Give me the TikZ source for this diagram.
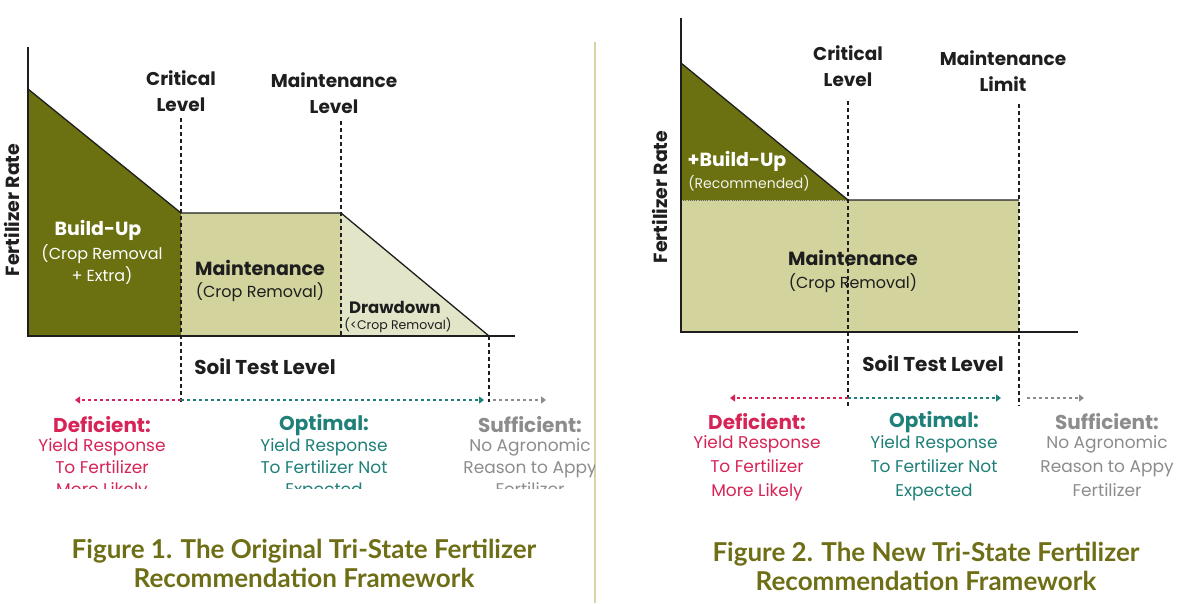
\documentclass[tikz,border=0pt]{standalone}
\usepackage{fontspec}
\setmainfont{Poppins}
\newfontfamily\capfont{Lato}
\usetikzlibrary{arrows.meta}
\definecolor{olivedark}{RGB}{107,112,16}
\definecolor{maint}{RGB}{210,211,157}
\definecolor{drawd}{RGB}{226,229,200}
\definecolor{defred}{RGB}{214,36,86}
\definecolor{optteal}{RGB}{30,128,120}
\definecolor{sufgray}{RGB}{140,140,140}
\definecolor{capolive}{RGB}{110,110,22}
\definecolor{sepline}{RGB}{215,212,165}
\definecolor{txt}{RGB}{30,30,30}
\tikzset{
  head/.style={font=\bfseries\fontsize{18.5}{26}\selectfont, text=txt, align=center, inner sep=0pt},
  areabold/.style={font=\bfseries\fontsize{19}{22}\selectfont, inner sep=0pt},
  areasub/.style={font=\fontsize{16}{22}\selectfont, inner sep=0pt, align=center},
  axlabel/.style={font=\bfseries\fontsize{19}{20}\selectfont, text=txt, rotate=90, inner sep=0pt},
  zonehead/.style={font=\bfseries\fontsize{20}{22}\selectfont, inner sep=0pt},
  zonetext/.style={font=\fontsize{17}{22}\selectfont, inner sep=0pt, align=center},
  zonetextb/.style={font=\fontsize{17}{24}\selectfont, inner sep=0pt, align=center},
  caption/.style={font=\capfont\bfseries\fontsize{26}{29}\selectfont, text=capolive, align=center, inner sep=0pt},
  soil/.style={font=\bfseries\fontsize{20}{22}\selectfont, text=txt, inner sep=0pt},
  outline/.style={draw=txt, line width=1.3pt, line join=round},
  axis/.style={draw=txt, line width=1.3pt},
  levelline/.style={draw=txt, line width=1.2pt, dash pattern=on 4pt off 3pt},
  zonearrow/.style={line width=2pt, dash pattern=on 3pt off 3pt, -{Triangle[length=5pt,width=7pt]}},
}
\begin{document}
\begin{tikzpicture}[x=1pt,y=-1pt]
\useasboundingbox (0,0) rectangle (1178,603);
% separator
\draw[sepline, line width=1.2pt] (595,42) -- (595,603);

%%%%%%%%%%%%%%%% LEFT PANEL %%%%%%%%%%%%%%%%
\coordinate (Laxtop) at (28,47);
\coordinate (Lorig) at (28,336);
\coordinate (Lbaseend) at (515,336);
\coordinate (Lapex) at (28,89);
\coordinate (Lcrit) at (181,213);
\coordinate (Lmaint) at (341,213);
\coordinate (Lend) at (489,336);
\fill[olivedark] (Lapex) -- (Lcrit) -- (181,336) -- (Lorig) -- cycle;
\fill[maint] (Lcrit) -- (Lmaint) -- (341,336) -- (181,336) -- cycle;
\fill[drawd] (Lmaint) -- (Lend) -- (341,336) -- cycle;
\draw[outline] (Lapex) -- (Lcrit) -- (Lmaint) -- (Lend);
\draw[axis] (Laxtop) -- (Lorig) -- (Lbaseend);

\node[head] (Lcl) at (181,91) {Critical\\Level};
\node[head] (Lml) at (334,93.5) {Maintenance\\Level};
\coordinate (Lcrittop) at (181,118);
\coordinate (Lcritbot) at (181,402);
\coordinate (Lmainttop) at (341,121);
\coordinate (Lmaintbot) at (341,336);
\coordinate (Lendbot) at (489,402);
\draw[levelline] (Lcrittop) -- (Lcritbot);
\draw[levelline] (Lmainttop) -- (Lmaintbot);
\draw[levelline] (Lend) -- (Lendbot);

\node[axlabel] (Lfr) at (12,210) {Fertilizer Rate};
\node[areabold, text=white] (Lbu) at (98,230) {Build-Up};
\node[areasub, text=white] (Lbus) at (102,265) {(Crop Removal\\+ Extra)};
\node[areabold, text=txt] (Lmt) at (260,268) {Maintenance};
\node[areasub, text=txt] (Lmts) at (260,292) {(Crop Removal)};
\node[font=\bfseries\fontsize{16.5}{18}\selectfont, text=txt, inner sep=0pt] (Ldd) at (395,307) {Drawdown};
\node[font=\fontsize{12.5}{14}\selectfont, text=txt, inner sep=0pt] (Ldds) at (398,325) {(<Crop Removal)};
\node[soil] (Lstl) at (265,367) {Soil Test Level};

\coordinate (Ldefend) at (75,400);
\coordinate (Lopt) at (181,400);
\coordinate (Loptend) at (484,400);
\coordinate (Lsuf) at (493,400);
\coordinate (Lsufend) at (546,400);
\draw[zonearrow, defred] (Lopt) -- (Ldefend);
\draw[zonearrow, optteal] (Lopt) -- (Loptend);
\draw[zonearrow, sufgray] (Lsuf) -- (Lsufend);

\begin{scope}
\clip (0,0) rectangle (594,488);
\node[zonehead, text=defred] (Ldef) at (102,425) {Deficient:};
\node[zonetext, text=defred, anchor=north] (Ldeft) at (102,438) {Yield Response\\To Fertilizer\\More Likely};
\node[zonehead, text=optteal] (Lop) at (324,425) {Optimal:};
\node[zonetext, text=optteal, anchor=north] (Lopt2) at (324,438) {Yield Response\\To Fertilizer Not\\Expected};
\node[zonehead, text=sufgray] (Lsf) at (530,425) {Sufficient:};
\node[zonetext, text=sufgray, anchor=north] (Lsft) at (530,438) {No Agronomic\\Reason to Appy\\Fertilizer};
\end{scope}

\node[caption] (Lcap) at (304,563.5) {Figure 1. The Original Tri-State Fertilizer\\Recommendation Framework};

%%%%%%%%%%%%%%%% RIGHT PANEL %%%%%%%%%%%%%%%%
\coordinate (Raxtop) at (681,18);
\coordinate (Rorig) at (681,332);
\coordinate (Rbaseend) at (1078,332);
\coordinate (Rapex) at (681,63);
\coordinate (Rcrit) at (848,200);
\coordinate (Rlim) at (1019,200);
\fill[maint] (681,200) -- (Rlim) -- (1019,332) -- (Rorig) -- cycle;
\fill[olivedark] (Rapex) -- (Rcrit) -- (681,200) -- cycle;
\draw[txt!70, line width=1pt, dash pattern=on 1pt off 1.2pt] (681,200) -- (Rcrit);
\draw[outline] (Rapex) -- (Rcrit) -- (Rlim);
\draw[axis] (Raxtop) -- (Rorig) -- (Rbaseend);

\node[head] (Rcl) at (848,66.5) {Critical\\Level};
\node[head] (Rml) at (1003,71) {Maintenance\\Limit};
\coordinate (Rcrittop) at (848,101);
\coordinate (Rcritbot) at (848,406);
\coordinate (Rlimtop) at (1019,104);
\coordinate (Rlimbot) at (1019,406);
\draw[levelline] (Rcrittop) -- (Rcritbot);
\draw[levelline] (Rlimtop) -- (Rlimbot);

\node[axlabel] (Rfr) at (660,197) {Fertilizer Rate};
\node[areabold, text=white] (Rbu) at (737,161) {+Build-Up};
\node[font=\fontsize{14}{15}\selectfont, text=white!92!olivedark, inner sep=0pt] (Rbus) at (749,183) {(Recommended)};
\node[areabold, text=txt] (Rmt) at (853,258) {Maintenance};
\node[areasub, text=txt] (Rmts) at (853,283) {(Crop Removal)};
\node[soil] (Rstl) at (933,364) {Soil Test Level};

\coordinate (Rdefend) at (730,398);
\coordinate (Ropt) at (848,398);
\coordinate (Roptend) at (1001,398);
\coordinate (Rsuf) at (1027,398);
\coordinate (Rsufend) at (1084,398);
\draw[zonearrow, defred] (Ropt) -- (Rdefend);
\draw[zonearrow, optteal] (Ropt) -- (Roptend);
\draw[zonearrow, sufgray] (Rsuf) -- (Rsufend);

\node[zonehead, text=defred] (Rdef) at (757,422) {Deficient:};
\node[zonetextb, text=defred, anchor=north] (Rdeft) at (757,435) {Yield Response\\To Fertilizer\\More Likely};
\node[zonehead, text=optteal] (Rop) at (934,422) {Optimal:};
\node[zonetextb, text=optteal, anchor=north] (Ropt2) at (934,435) {Yield Response\\To Fertilizer Not\\Expected};
\node[zonehead, text=sufgray] (Rsf) at (1107,422) {Sufficient:};
\node[zonetextb, text=sufgray, anchor=north] (Rsft) at (1107,435) {No Agronomic\\Reason to Appy\\Fertilizer};

\node[caption] (Rcap) at (926,566) {Figure 2. The New Tri-State Fertilizer\\Recommendation Framework};
\end{tikzpicture}
\end{document}
